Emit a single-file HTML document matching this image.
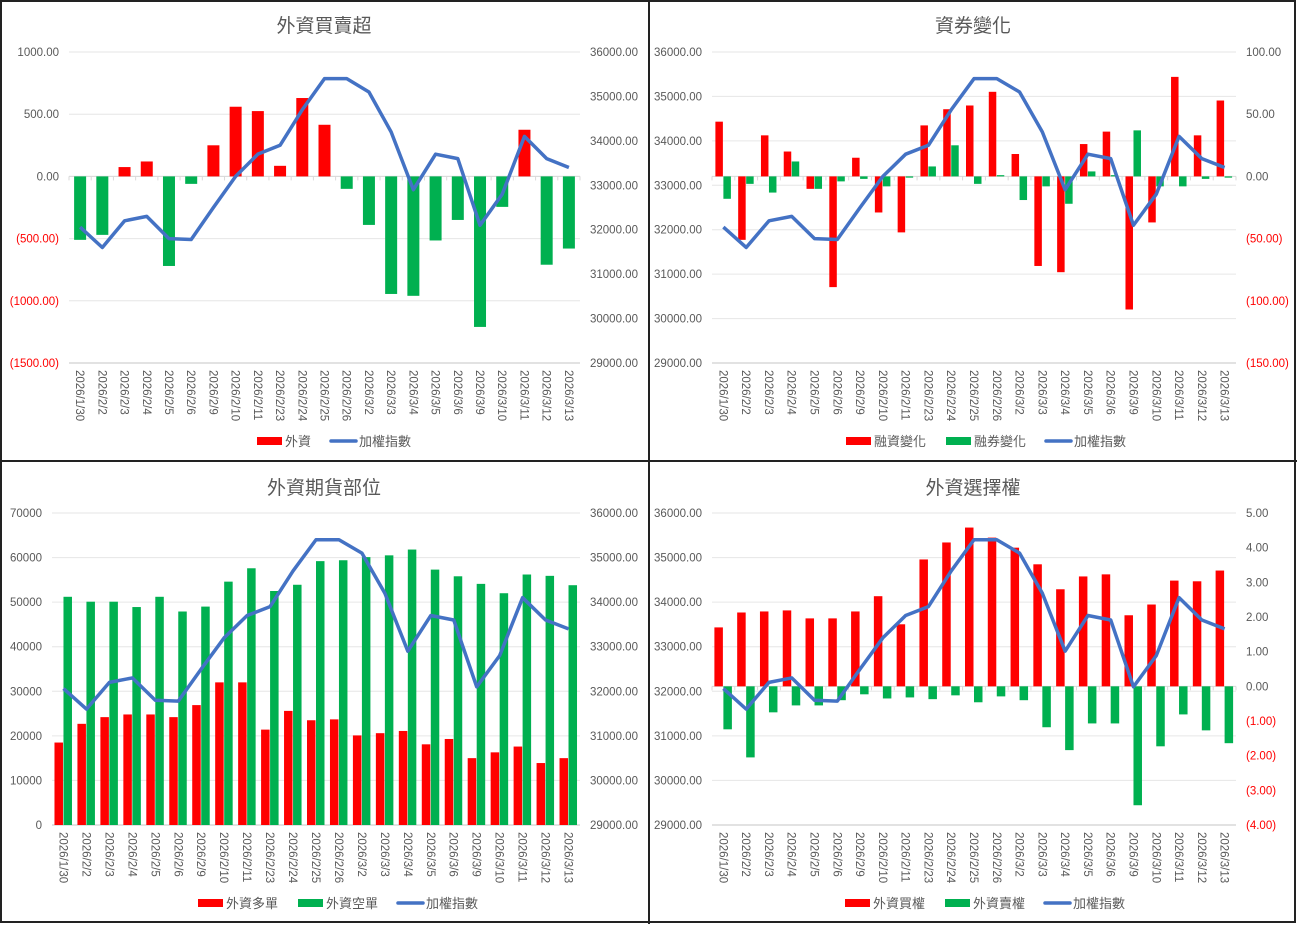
<!DOCTYPE html>
<html><head><meta charset="utf-8"><style>
html,body{margin:0;padding:0;background:#fff;}
svg text{font-family:"Liberation Sans","Noto Sans CJK TC",sans-serif;}
</style></head><body>
<svg id="s" width="1297" height="924" xmlns="http://www.w3.org/2000/svg"></svg>
<script>
const S=document.getElementById('s');let h='';
const D=['2026/1/30','2026/2/2','2026/2/3','2026/2/4','2026/2/5','2026/2/6','2026/2/9','2026/2/10','2026/2/11','2026/2/23','2026/2/24','2026/2/25','2026/2/26','2026/3/2','2026/3/3','2026/3/4','2026/3/5','2026/3/6','2026/3/9','2026/3/10','2026/3/11','2026/3/12','2026/3/13'];
const IDX=[32060,31600,32200,32300,31800,31780,32500,33200,33700,33900,34700,35400,35400,35100,34200,32900,33700,33600,32100,32800,34100,33600,33400];
const R='#ff0000',G='#00b050',B='#4472c4',T='#595959';
function fmt(v,d){let s=Math.abs(v).toFixed(d);return v<0?'('+s+')':s;}
function panel(o){
 const{ox,oy,title,x0,x1,top,bot}=o;
 h+=`<text x="${ox+324}" y="${oy+32}" font-size="19" fill="${T}" text-anchor="middle">${title}</text>`;
 const L=o.left,Rt=o.right;
 const ly=v=>top+(L.max-v)/(L.max-L.min)*(bot-top);
 const ry=v=>top+(Rt.max-v)/(Rt.max-Rt.min)*(bot-top);
 for(let v=L.max;v>=L.min-1e-9;v-=L.step){
  h+=`<line x1="${x0}" x2="${x1}" y1="${ly(v)}" y2="${ly(v)}" stroke="#e6e6e6" stroke-width="1"/>`;
  h+=`<text x="${x0-10}" y="${ly(v)+4}" font-size="11.5" fill="${v<0?R:T}" text-anchor="end">${fmt(v,L.d)}</text>`;}
 for(let v=Rt.max;v>=Rt.min-1e-9;v-=Rt.step){h+=`<text x="${x1+10}" y="${ry(v)+4}" font-size="11.5" fill="${v<0?R:T}">${fmt(v,Rt.d)}</text>`;}
 h+=`<line x1="${x0}" x2="${x1}" y1="${bot}" y2="${bot}" stroke="#d9d9d9" stroke-width="1.5"/>`;
 const n=D.length,step=(x1-x0)/n,cx=i=>x0+step*(i+.5);
 const yb=o.barAxis=='L'?ly:ry;
 if(o.zero){const z=yb(0);h+=`<line x1="${x0}" x2="${x1}" y1="${z}" y2="${z}" stroke="#d9d9d9" stroke-width="1"/>`;
  for(let i=0;i<=n;i++)h+=`<line x1="${x0+i*step}" x2="${x0+i*step}" y1="${z}" y2="${z+4}" stroke="#d9d9d9"/>`;}
 D.forEach((d,i)=>{h+=`<text transform="translate(${cx(i)-4},${bot+7}) rotate(90)" font-size="11.5" fill="${T}">${d}</text>`;});
 const series=o.series,ns=series.length,bw=o.bw;
 series.forEach((s,k)=>{s.v.forEach((v,i)=>{
  const x=cx(i)-ns*bw/2+k*bw; const y0=yb(0),y1=yb(v);
  const c=s.c||(v>=0?R:G);
  h+=`<rect x="${x}" y="${Math.min(y0,y1)}" width="${bw-(ns>1?0.5:0)}" height="${Math.abs(y1-y0)}" fill="${c}"/>`;});});
 const iy=o.barAxis=='L'?ry:ly;
 h+=`<polyline fill="none" stroke="${B}" stroke-width="3.5" stroke-linejoin="round" points="${IDX.map((v,i)=>cx(i)+','+iy(v)).join(' ')}"/>`;
 let lx=o.legX,ly2=oy+441;
 o.leg.forEach(([c,t,line])=>{
  if(line)h+=`<line x1="${lx}" x2="${lx+25}" y1="${ly2}" y2="${ly2}" stroke="${c}" stroke-width="3.5" stroke-linecap="round"/>`;
  else h+=`<rect x="${lx}" y="${ly2-4}" width="25" height="8" fill="${c}"/>`;
  h+=`<text x="${lx+28}" y="${ly2+5}" font-size="13" fill="${T}">${t}</text>`;lx+=28+t.length*13+20;});
}
const idxAx={max:36000,min:29000,step:1000,d:2};
panel({ox:0,oy:0,title:'外資買賣超',x0:69,x1:580,top:52,bot:363,bw:12,zero:1,
 left:{max:1000,min:-1500,step:500,d:2},right:idxAx,barAxis:'L',
 series:[{v:[-510,-470,75,120,-720,-60,250,560,525,85,630,415,-100,-390,-945,-960,-515,-350,-1210,-245,375,-710,-580]}],
 leg:[[R,'外資'],[B,'加權指數',1]],legX:257});
panel({ox:649,oy:0,title:'資券變化',x0:712,x1:1236,top:52,bot:363,bw:8,zero:1,
 left:idxAx,right:{max:100,min:-150,step:50,d:2},barAxis:'R',
 series:[{c:R,v:[44,-51,33,20,-10,-89,15,-29,-45,41,54,57,68,18,-72,-77,26,36,-107,-37,80,33,61]},
 {c:G,v:[-18,-6,-13,12,-10,-4,-2,-8,-1,8,25,-6,1,-19,-8,-22,4,1,37,-8,-8,-2,-1]}],
 leg:[[R,'融資變化'],[G,'融券變化'],[B,'加權指數',1]],legX:846});
panel({ox:0,oy:462,title:'外資期貨部位',x0:52,x1:580,top:513,bot:825,bw:9,
 left:{max:70000,min:0,step:10000,d:0},right:idxAx,barAxis:'L',
 series:[{c:R,v:[18500,22700,24200,24800,24800,24200,26900,32000,32000,21400,25600,23500,23700,20100,20600,21100,18100,19300,15000,16300,17600,13900,15000]},
 {c:G,v:[51200,50100,50100,48900,51200,47900,49000,54600,57600,52500,53900,59200,59400,60100,60500,61800,57300,55800,54100,52000,56200,55900,53800]}],
 leg:[[R,'外資多單'],[G,'外資空單'],[B,'加權指數',1]],legX:198});
panel({ox:649,oy:462,title:'外資選擇權',x0:712,x1:1236,top:513,bot:825,bw:9,zero:1,
 left:idxAx,right:{max:5,min:-4,step:1,d:2},barAxis:'R',
 series:[{c:R,v:[1.70,2.13,2.16,2.19,1.96,1.96,2.16,2.6,1.79,3.66,4.15,4.58,4.29,4.0,3.52,2.8,3.17,3.23,2.05,2.36,3.05,3.03,3.34]},
 {c:G,v:[-1.24,-2.05,-0.75,-0.55,-0.55,-0.4,-0.23,-0.35,-0.32,-0.37,-0.26,-0.46,-0.29,-0.4,-1.18,-1.84,-1.07,-1.07,-3.43,-1.73,-0.81,-1.27,-1.64]}],
 leg:[[R,'外資買權'],[G,'外資賣權'],[B,'加權指數',1]],legX:845});
h+=`<rect x="1" y="1" width="1294" height="921" fill="none" stroke="#222" stroke-width="2"/>`;
h+=`<line x1="649" x2="649" y1="0" y2="924" stroke="#222" stroke-width="2"/><line x1="0" x2="1297" y1="461" y2="461" stroke="#222" stroke-width="2"/>`;
S.innerHTML=h;
</script>
</body></html>
